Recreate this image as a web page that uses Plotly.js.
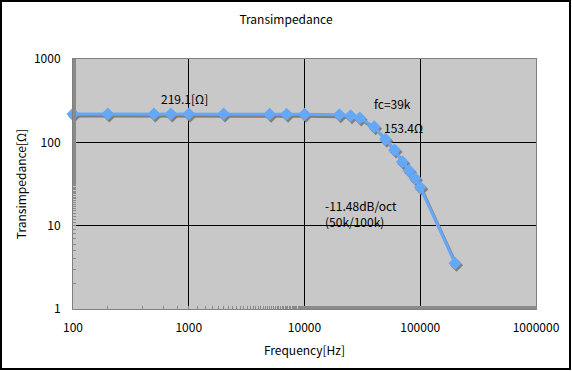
<!DOCTYPE html>
<html>
<head>
<meta charset="utf-8">
<script src="https://cdn.plot.ly/plotly-3.0.1.min.js"></script>
<style>html,body{margin:0;padding:0;background:#fff;}#chart{width:572px;height:371px;}</style>
</head>
<body>
<div id="chart"></div>
<script>
// Data
var freqHz = [100, 200, 500, 700, 1000, 2000, 5000, 7000, 10000, 20000, 25000, 30000, 40000, 50000, 60000, 70000, 80000, 90000, 100000, 200000];
var transimpedanceOhm = [219.1, 219.1, 219.1, 219, 219, 219, 218, 218, 217, 214, 208, 196, 153.4, 109, 81, 58.5, 46, 37, 29, 3.55];
var xTickVals = [100, 1000, 10000, 100000, 1000000];
var xTickText = ['100', '1000', '10000', '100000', '1000000'];
var yTickVals = [1, 10, 100, 1000];
var yTickText = ['1', '10', '100', '1000'];

var FONT = '"Noto Sans CJK JP", "Noto Sans", sans-serif';
var W = 572, H = 371, ML = 73, MR = 36, MT = 59, MB = 62;
var pw = W - ML - MR, ph = H - MT - MB;
var xr = [2, 6], yr = [0, 3];
// shadow axes: shifted by a couple of pixels
var dx = 1.5 * (xr[1] - xr[0]) / pw, dy = 2 * (yr[1] - yr[0]) / ph;

var shadow = {
  x: freqHz, y: transimpedanceOhm, xaxis: 'x2', yaxis: 'y2',
  mode: 'lines+markers', cliponaxis: false, hoverinfo: 'skip',
  line: {color: '#7f7f7f', width: 3},
  marker: {symbol: 'diamond', size: 10, color: '#7f7f7f'}
};
var main = {
  x: freqHz, y: transimpedanceOhm, xaxis: 'x3', yaxis: 'y3',
  mode: 'lines+markers', cliponaxis: false,
  line: {color: '#66a8f8', width: 3},
  marker: {symbol: 'diamond', size: 10, color: '#66a8f8'}
};

var layout = {
  width: W, height: H,
  margin: {l: ML, r: MR, t: MT, b: MB, pad: 0},
  paper_bgcolor: '#ffffff', plot_bgcolor: '#c8c8c8',
  showlegend: false,
  font: {family: FONT, size: 12, color: '#000'},
  title: {text: 'Transimpedance', x: 0.5, xanchor: 'center', y: 1 - 20 / H, yanchor: 'middle', font: {family: FONT, size: 12, color: '#000'}},
  xaxis: {
    type: 'log', range: xr, tickvals: xTickVals, ticktext: xTickText,
    showgrid: true, gridcolor: '#000', gridwidth: 1, zeroline: false,
    showline: true, mirror: true, linecolor: '#808080', linewidth: 1,
    ticks: '', ticklabelstandoff: 8,
    minor: {ticks: 'inside', ticklen: 3, tickcolor: '#8a8a8a', showgrid: false},
    tickfont: {family: FONT, size: 12, color: '#000'},
    title: {text: 'Frequency[Hz]', standoff: 12, font: {family: FONT, size: 12, color: '#000'}}
  },
  yaxis: {
    type: 'log', range: yr, tickvals: yTickVals, ticktext: yTickText,
    showgrid: true, gridcolor: '#000', gridwidth: 1, zeroline: false,
    showline: true, mirror: true, linecolor: '#808080', linewidth: 1,
    ticks: '', ticklabelstandoff: 9,
    minor: {ticks: 'inside', ticklen: 3, tickcolor: '#8a8a8a', showgrid: false},
    tickfont: {family: FONT, size: 12, color: '#000'},
    title: {text: 'Transimpedance[Ω]', standoff: 4, font: {family: FONT, size: 12, color: '#000'}}
  },
  xaxis2: {type: 'log', overlaying: 'x', range: [xr[0] - dx, xr[1] - dx], visible: false},
  yaxis2: {type: 'log', overlaying: 'y', range: [yr[0] + dy, yr[1] + dy], visible: false},
  xaxis3: {type: 'log', overlaying: 'x', range: xr, visible: false},
  yaxis3: {type: 'log', overlaying: 'y', range: yr, visible: false},
  annotations: [
    {x: 2.96, y: 2.532, xref: 'x', yref: 'y', text: '219.1[Ω]', showarrow: false, xanchor: 'center', yanchor: 'middle'},
    {x: 4.757, y: 2.472, xref: 'x', yref: 'y', text: 'fc=39k', showarrow: false, xanchor: 'center', yanchor: 'middle'},
    {x: 4.852, y: 2.184, xref: 'x', yref: 'y', text: '153.4Ω', showarrow: false, xanchor: 'center', yanchor: 'middle'},
    {x: 4.161, y: 1.151, xref: 'x', yref: 'y', text: '-11.48dB/oct<br>(50k/100k)', showarrow: false, xanchor: 'left', yanchor: 'middle', align: 'left'}
  ],
  shapes: [
    {type: 'rect', xref: 'paper', yref: 'paper', layer: 'above',
     x0: (1 - ML) / pw, x1: (W - 2 - ML) / pw, y0: -(MB - 2) / ph, y1: 1 + (MT - 1) / ph,
     line: {color: '#000', width: 2}, fillcolor: 'rgba(0,0,0,0)'}
  ]
};

Plotly.newPlot('chart', [shadow, main], layout, {displayModeBar: false, staticPlot: true});
</script>
</body>
</html>
